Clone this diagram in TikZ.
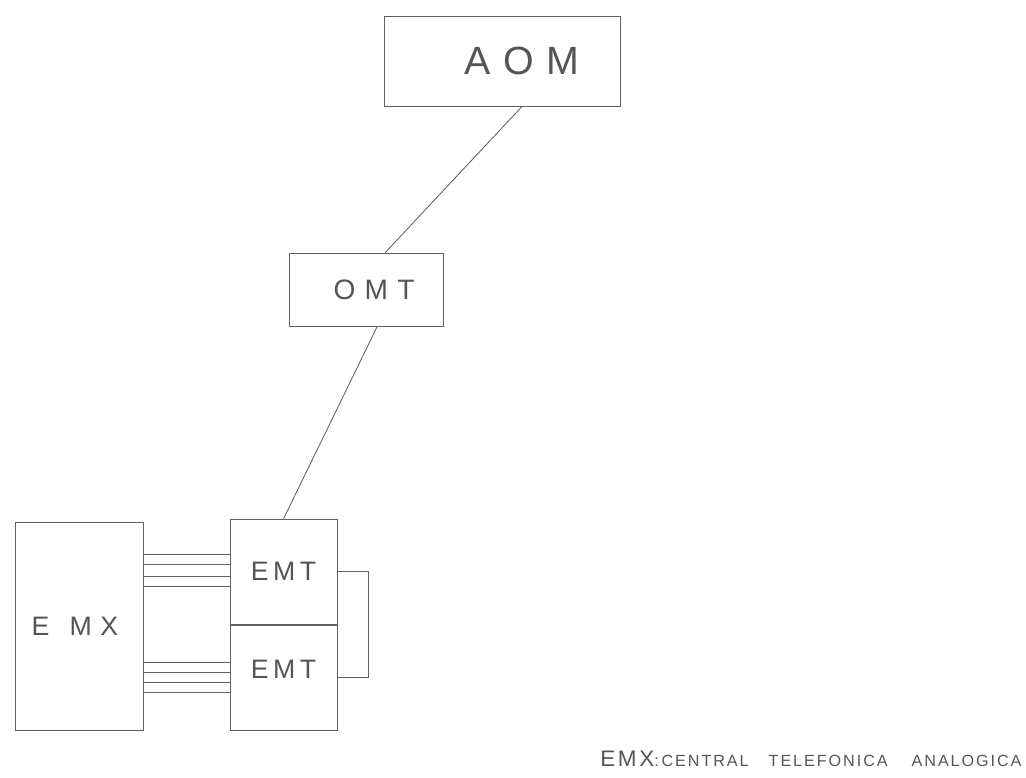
\documentclass[tikz,border=0pt]{standalone}
\usepackage{fontspec}
\setmainfont{Liberation Sans}[LetterSpace=5]
\usepackage{xcolor}
\usepackage{tikz}
\usetikzlibrary{positioning,calc}

\definecolor{ink}{HTML}{606060}
\definecolor{type}{HTML}{555555}

\begin{document}
\begin{tikzpicture}[box/.style={draw=ink,line width=0.7pt,text=type,inner sep=0pt},
 wire/.style={draw=ink,line width=0.6pt}]
 \useasboundingbox (0,0) rectangle (25.65,-19.45);
 \node[box,minimum width=5.9cm,minimum height=2.25cm,font=\fontsize{28}{30}\selectfont] (aom) at (12.55,-1.525) {\hspace*{1cm}A O M};
 \node[box,minimum width=3.85cm,minimum height=1.825cm,font=\fontsize{20}{22}\selectfont] (omt) at (9.15,-7.24) {\hspace*{0.4cm}O M T};
 \node[box,minimum width=3.2cm,minimum height=5.2cm,font=\fontsize{19}{21}\selectfont] (emx) at (1.975,-15.65) {E\hspace{0.75em}M X\hspace*{0.2cm}};
 \node[box,minimum width=2.675cm,minimum height=2.625cm,font=\fontsize{19}{21}\selectfont] (emtA) at (7.09,-14.29) {E\,M\,T};
 \node[box,minimum width=2.675cm,minimum height=2.625cm,font=\fontsize{19}{21}\selectfont,below=0pt of emtA] (emtB) {\raisebox{0.4cm}{E\,M\,T}};
 % links
 \draw[wire] ([xshift=0.5cm]aom.south) -- ([xshift=0.48cm]omt.north);
 \draw[wire] ([xshift=0.28cm]omt.south) -- (emtA.north);
 \foreach \dy in {0.42,0.17,-0.11,-0.36}
  \draw[wire] ([yshift=\dy cm]emtA.west) -- ([yshift=\dy cm]emtA.west -| emx.east);
 \foreach \dy in {0.39,0.14,-0.11,-0.36}
  \draw[wire] ([yshift=\dy cm]emtB.west) -- ([yshift=\dy cm]emtB.west -| emx.east);
 \draw[wire] (emtA.east) -- ++(0.78,0) |- (emtB.east);
 \node[text=type,anchor=base west,inner sep=0pt,font=\fontsize{16}{18}\selectfont\addfontfeatures{LetterSpace=12}] (legend) at (15,-19.15)
 {EMX{\fontsize{11.5}{13}\selectfont:\,CENTRAL\hspace{0.5cm}TELEFONICA\hspace{0.6cm}ANALOGICA}};
\end{tikzpicture}
\end{document}
